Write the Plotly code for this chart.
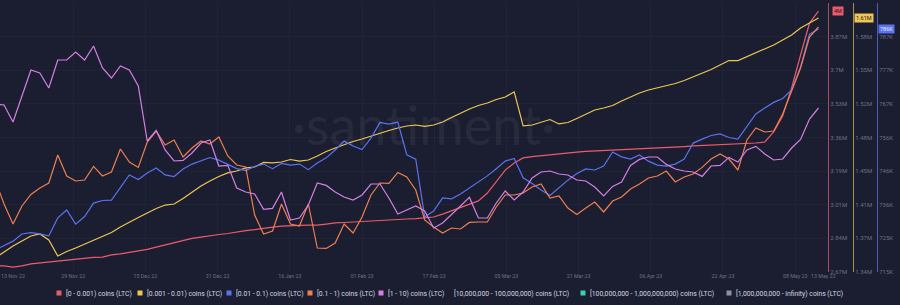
import plotly.graph_objects as go
import pandas as pd
import numpy as np

# ---------------- data ----------------
# one reading roughly every second day, 11 Nov 2022 -> 13 May 2023
dates = pd.date_range("2022-11-11 16:40", "2023-05-13 03:50", periods=93)

names = [
    "[0 - 0.001) coins (LTC)",
    "[0.001 - 0.01) coins (LTC)",
    "[0.01 - 0.1) coins (LTC)",
    "[0.1 - 1) coins (LTC)",
    "[1 - 10) coins (LTC)",
]

# [0 - 0.001) holders, millions
red_vals = [2.701, 2.701, 2.695, 2.701, 2.711, 2.716, 2.721, 2.726, 2.731, 2.736,
            2.741, 2.744, 2.746, 2.757, 2.762, 2.769, 2.777, 2.785, 2.797, 2.808,
            2.818, 2.828, 2.841, 2.848, 2.856, 2.861, 2.866, 2.874, 2.881, 2.886,
            2.894, 2.899, 2.904, 2.904, 2.907, 2.909, 2.909, 2.914, 2.920, 2.922,
            2.925, 2.927, 2.930, 2.932, 2.935, 2.937, 2.940, 2.942, 2.945, 2.950,
            2.965, 2.981, 2.996, 3.016, 3.032, 3.072, 3.128, 3.189, 3.225, 3.251,
            3.258, 3.263, 3.268, 3.274, 3.279, 3.281, 3.284, 3.286, 3.289, 3.291,
            3.294, 3.296, 3.299, 3.299, 3.302, 3.302, 3.304, 3.309, 3.312, 3.314,
            3.317, 3.319, 3.322, 3.324, 3.327, 3.327, 3.332, 3.383, 3.465, 3.607,
            3.775, 3.938, 3.999]

# [0.001 - 0.01) holders, millions
yellow_vals = [1.3546, 1.3608, 1.3671, 1.3723, 1.3775, 1.3796, 1.3733, 1.3567, 1.3613, 1.3650,
               1.3691, 1.3733, 1.3775, 1.3811, 1.3868, 1.3920, 1.3967, 1.4014, 1.4061, 1.4097,
               1.4108, 1.4165, 1.4233, 1.4295, 1.4347, 1.4394, 1.4431, 1.4451, 1.4483, 1.4493,
               1.4540, 1.4535, 1.4545, 1.4571, 1.4555, 1.4566, 1.4607, 1.4654, 1.4691, 1.4727,
               1.4758, 1.4784, 1.4816, 1.4847, 1.4873, 1.4899, 1.4920, 1.4930, 1.4915, 1.4930,
               1.4961, 1.5008, 1.5055, 1.5097, 1.5133, 1.5159, 1.5196, 1.5222, 1.5274, 1.4920,
               1.4930, 1.4961, 1.4987, 1.4941, 1.4956, 1.4998, 1.5045, 1.5086, 1.5107, 1.5133,
               1.5180, 1.5222, 1.5263, 1.5294, 1.5315, 1.5336, 1.5362, 1.5393, 1.5430, 1.5466,
               1.5508, 1.5555, 1.5601, 1.5601, 1.5643, 1.5680, 1.5721, 1.5763, 1.5815, 1.5867,
               1.5940, 1.5992, 1.6044]

# [0.01 - 0.1) holders, thousands
blue_vals = [721.7, 723.1, 724.4, 726.6, 727.0, 726.6, 726.0, 731.5, 733.9, 729.6,
             731.9, 736.0, 736.8, 736.9, 740.6, 744.6, 743.2, 745.2, 746.7, 744.6,
             744.1, 746.4, 747.9, 749.0, 749.9, 749.1, 747.9, 746.5, 745.9, 747.2,
             747.9, 746.5, 748.1, 747.6, 747.9, 746.2, 748.2, 749.8, 752.2, 754.9,
             753.4, 752.3, 755.8, 760.6, 760.1, 760.7, 750.7, 749.4, 731.8, 733.6,
             737.6, 737.3, 738.8, 740.6, 742.3, 744.3, 746.5, 748.8, 749.6, 743.7,
             742.0, 740.0, 738.3, 740.6, 743.0, 745.0, 746.4, 746.1, 747.3, 751.6,
             750.1, 749.4, 750.7, 748.8, 747.6, 747.3, 747.9, 749.4, 754.3, 755.5,
             756.6, 757.1, 756.0, 755.5, 759.2, 763.2, 765.0, 766.7, 767.9, 770.5,
             777.5, 787.5, 789.1]

# [0.1 - 1) holders, thousands (axis hidden in the reference)
orange_vals = [526, 514, 504, 513, 518.8, 522, 524.5, 538.5, 528, 525.5,
               526, 532.8, 528, 530, 541.5, 535, 532.3, 545, 550.5, 543.5,
               546, 537.5, 542, 545.5, 544, 547.5, 538, 533.5, 532.5, 508.5,
               499, 500.5, 514, 504, 503, 514, 492, 491.8, 494.5, 504,
               499.5, 507.5, 518.5, 524.5, 524.3, 529.8, 527.5, 521, 506, 502.5,
               499.5, 502, 501.5, 504.8, 505, 505, 512.5, 518.5, 518.5, 519.5,
               522.5, 524, 517, 518, 512, 508.8, 512, 515, 510, 515.5,
               517.5, 521.5, 524, 527, 528, 530.5, 525, 527.5, 529, 532.3,
               536.5, 539, 536.5, 531, 546, 552, 550, 550.5, 559, 570.5,
               582, 597.5, 602.5]

# [1 - 10) holders, thousands (axis hidden in the reference)
purple_vals = [334, 333.5, 325, 337.5, 351, 349.5, 342, 356, 356, 360,
               356, 363, 352, 347, 353, 351, 343, 315.5, 320.8, 311,
               305.5, 305.8, 309.5, 314.5, 316, 303, 303.3, 292, 290, 289,
               281.3, 281.8, 290, 276, 277, 283.5, 294.5, 293.3, 290, 287.5,
               286, 288.5, 294, 294, 287, 279, 281, 283, 280.5, 272,
               274.5, 279, 283, 287.3, 277, 277, 284.5, 290.5, 286, 290,
               297, 300, 300.5, 299, 298.5, 296, 295.5, 292.5, 288, 292.8,
               295, 303.3, 306.3, 307.5, 307.5, 303.8, 301.5, 300.5, 300, 297.8,
               303, 303.3, 307.3, 305, 311, 312.8, 309, 306, 306.5, 312,
               316.3, 326.5, 332]

x_tick_dates = ["2022-11-29", "2022-12-15", "2022-12-31", "2023-01-16",
                "2023-02-01", "2023-02-17", "2023-03-05", "2023-03-21", "2023-04-06",
                "2023-04-22", "2023-05-08"]
x_tick_labels = ["29 Nov 22", "15 Dec 22", "31 Dec 22", "16 Jan 23",
                 "01 Feb 23", "17 Feb 23", "05 Mar 23", "21 Mar 23", "06 Apr 23",
                 "22 Apr 23", "08 May 23"]
x_edge_labels = ["13 Nov 22", "13 May 23"]

red_range = [2.67, 4.04]
red_tick_labels = ["2.67M", "2.84M", "3.01M", "3.19M", "3.36M", "3.53M", "3.7M", "3.87M", "4.04M"]
yellow_range = [1.34, 1.62]
yellow_tick_labels = ["1.34M", "1.37M", "1.41M", "1.45M", "1.48M", "1.52M", "1.55M", "1.58M", "1.62M"]
blue_range = [715, 797]
blue_tick_labels = ["715K", "725K", "736K", "746K", "756K", "767K", "777K", "787K", "797K"]
orange_range = [480, 614.5]
purple_range = [250, 384.5]

badge_labels = ["4M", "1.61M", "786K"]

legend_labels = names + [
    "[10,000,000 - 100,000,000) coins (LTC)",
    "[100,000,000 - 1,000,000,000) coins (LTC)",
    "[1,000,000,000 - infinity) coins (LTC)",
]

# ---------------- styling ----------------
BG = "#1b1e30"
RED, YELLOW, BLUE, ORANGE, PURPLE = "#ec5b6b", "#efc653", "#5b72ee", "#ee7f50", "#d67fe3"
TEAL, GREY = "#35d2ae", "#8b90a3"
TICK = "#6c7186"
FONT = "Roboto"

W, H = 900, 305
ML, MR, MT, MB = 0, 0, 3, 33
PLOT_H = H - MT - MB


def px(xp):
    return xp / W


def py(yp):
    return (H - MB - yp) / PLOT_H


fig = go.Figure()
series = [
    (names[0], red_vals, RED, "y"),
    (names[1], yellow_vals, YELLOW, "y2"),
    (names[2], blue_vals, BLUE, "y3"),
    (names[3], orange_vals, ORANGE, "y4"),
    (names[4], purple_vals, PURPLE, "y5"),
]
for name, vals, col, ax in series:
    fig.add_trace(go.Scatter(x=dates, y=vals, name=name, mode="lines",
                             line=dict(color=col, width=1.2), yaxis=ax,
                             showlegend=False, hoverinfo="skip"))

tickfont = dict(family=FONT, size=6, color=TICK)
xtickfont = dict(family=FONT, size=5.3, color=TICK)


def right_axis(rng, labels, linecolor, **kw):
    return dict(range=rng, tickmode="array",
                tickvals=list(np.linspace(rng[0], rng[1], len(labels))),
                ticktext=labels, side="right", showline=True, linecolor=linecolor,
                linewidth=1, ticks="", tickfont=tickfont, zeroline=False,
                fixedrange=True, **kw)


fig.update_layout(
    width=W, height=H,
    margin=dict(l=ML, r=MR, t=MT, b=MB),
    paper_bgcolor=BG, plot_bgcolor=BG,
    showlegend=False,
    font=dict(family=FONT),
    xaxis=dict(domain=[0, 828 / W],
               range=["2022-11-12 18:41", "2023-05-15 06:30"],
               tickmode="array", tickvals=x_tick_dates, ticktext=x_tick_labels,
               tickangle=0, ticklabeloverflow="allow",
               showgrid=True, gridcolor="#20243a", gridwidth=1,
               zeroline=False, showline=False, ticks="", tickfont=xtickfont),
    yaxis=right_axis(red_range, red_tick_labels, "#a64f5b", anchor="x",
                     showgrid=True, gridcolor="#1f2335"),
    yaxis2=right_axis(yellow_range, yellow_tick_labels, "#a88c4c", overlaying="y",
                      anchor="free", position=853 / W, showgrid=False),
    yaxis3=right_axis(blue_range, blue_tick_labels, "#4f5db8", overlaying="y",
                      anchor="free", position=877 / W, showgrid=False),
    yaxis4=dict(range=orange_range, overlaying="y", visible=False, fixedrange=True),
    yaxis5=dict(range=purple_range, overlaying="y", visible=False, fixedrange=True),
)

annotations = []
# watermark
annotations.append(dict(text="·santiment·", xref="paper", yref="paper",
                        x=px(423), y=py(124), showarrow=False,
                        font=dict(family="Lato", size=54, color="rgba(255,255,255,0.055)")))

# first / last date labels (kept inside the chart as in the reference)
for lab, xp in zip(x_edge_labels, [13, 823]):
    annotations.append(dict(text=lab, xref="paper", yref="paper", x=px(xp), y=py(275.5),
                            xanchor="center", yanchor="middle", showarrow=False,
                            font=xtickfont))

# last-value badges
badge_specs = [
    (badge_labels[0], red_vals[-1], "y", 832, RED, "#2a1518"),
    (badge_labels[1], yellow_vals[-1], "y2", 854, YELLOW, "#1b1e30"),
    (badge_labels[2], blue_vals[-1], "y3", 878, BLUE, "#e8ecff"),
]
for txt, val, yref, xp, bg, fc in badge_specs:
    annotations.append(dict(text=txt, xref="paper", yref=yref, x=px(xp), y=val,
                            xanchor="left", yanchor="middle", showarrow=False,
                            bgcolor=bg, borderpad=1,
                            font=dict(family=FONT, size=5.5, color=fc)))

# custom legend
legend_colors = [RED, YELLOW, BLUE, ORANGE, PURPLE, None, TEAL, GREY]
legend_marker_x = [59, 140, 229, 310, 381, None, 583, 729]
legend_text_x = [64, 145, 234, 315, 386, 452, 588, 734]
shapes = []
for lab, col, mx, tx in zip(legend_labels, legend_colors, legend_marker_x, legend_text_x):
    if col is not None:
        shapes.append(dict(type="rect", xref="paper", yref="paper",
                           x0=px(mx - 2.5), x1=px(mx + 2.5), y0=py(295.5), y1=py(290.5),
                           fillcolor=col, line=dict(width=0)))
    annotations.append(dict(text=lab, xref="paper", yref="paper", x=px(tx), y=py(293),
                            xanchor="left", yanchor="middle", showarrow=False,
                            font=dict(family=FONT, size=6.8, color="#d3d6e0")))

fig.update_layout(annotations=annotations, shapes=shapes)

fig.write_html("out.html")
